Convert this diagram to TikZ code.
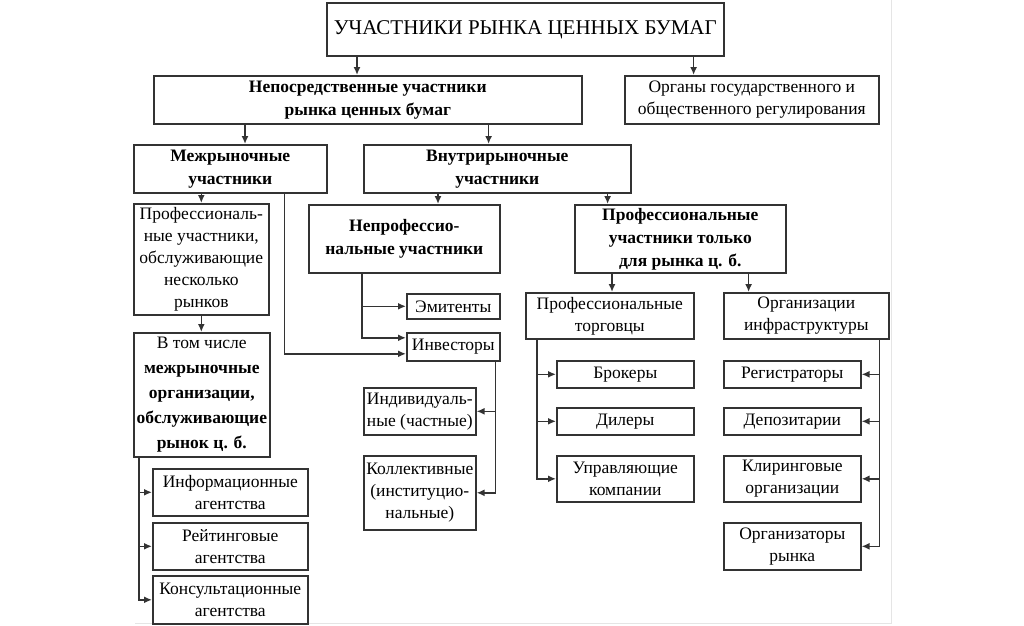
\documentclass[tikz,border=0pt]{standalone}
\usepackage{fontspec}
\setmainfont{Liberation Serif}
\usepackage{tikz}
\usetikzlibrary{arrows.meta}
\tikzstyle{block}=[draw=black!80,line width=1.6pt,align=center,inner sep=0pt,anchor=north west,font=\fontsize{17.5}{22}\selectfont]
\tikzstyle{heading}=[block,font=\fontsize{17.5}{23}\selectfont\bfseries]
\tikzstyle{link}=[draw=black!80,line width=1.6pt,-{Latex[length=8pt,width=7pt]}]

\begin{document}
\begin{tikzpicture}[x=1pt,y=-1pt]
  \useasboundingbox (0,0) rectangle (1024,625);
  \draw[black!10,line width=1pt] (135,623) -- (891,623) -- (891,0);
  % top levels
  \node [block,minimum width=397pt,minimum height=53pt,font=\fontsize{21}{26}\selectfont] (title) at (326,2) {УЧАСТНИКИ РЫНКА ЦЕННЫХ БУМАГ};
  \node [heading,minimum width=428pt,minimum height=48pt] (direct) at (153,75) {Непосредственные участники\\рынка ценных бумаг};
  \node [block,minimum width=254pt,minimum height=48pt] (regul) at (624,75) {Органы государственного и\\общественного регулирования};
  \node [heading,minimum width=193pt,minimum height=48pt] (inter) at (133,144) {Межрыночные\\участники};
  \node [heading,minimum width=267pt,minimum height=48pt] (intra) at (363,144) {Внутрирыночные\\участники};
  % intermarket branch
  \node [block,minimum width=135pt,minimum height=111pt] (multi) at (133,203) {Профессиональ-\\ные участники,\\обслуживающие\\несколько\\рынков};
  \node [block,minimum width=136pt,minimum height=124pt,font=\fontsize{17.5}{25}\selectfont] (incl) at (133,332) {В том числе\\\textbf{межрыночные}\\\textbf{организации,}\\\textbf{обслуживающие}\\\textbf{рынок ц. б.}};
  \node [block,minimum width=155pt,minimum height=47pt] (info) at (152,468) {Информационные\\агентства};
  \node [block,minimum width=155pt,minimum height=47pt] (rating) at (152,522) {Рейтинговые\\агентства};
  \node [block,minimum width=155pt,minimum height=48pt] (consult) at (152,575) {Консультационные\\агентства};
  % non-professional branch
  \node [heading,minimum width=191pt,minimum height=68pt] (nonprof) at (308,204) {Непрофессио-\\нальные участники};
  \node [block,minimum width=93pt,minimum height=25pt] (emit) at (406,293) {Эмитенты};
  \node [block,minimum width=93pt,minimum height=28pt] (invest) at (406,332) {Инвесторы};
  \node [block,minimum width=112pt,minimum height=47pt] (indiv) at (363,387) {Индивидуаль-\\ные (частные)};
  \node [block,minimum width=112pt,minimum height=74pt] (collect) at (363,455) {Коллективные\\(институцио-\\нальные)};
  % professional branch
  \node [heading,minimum width=211pt,minimum height=68pt] (prof) at (574,204) {Профессиональные\\участники только\\для рынка ц. б.};
  \node [block,minimum width=168pt,minimum height=46pt] (traders) at (525,292) {Профессиональные\\торговцы};
  \node [block,minimum width=165pt,minimum height=46pt] (infra) at (723,292) {Организации\\инфраструктуры};
  \node [block,minimum width=137pt,minimum height=27pt] (brokers) at (556,360) {Брокеры};
  \node [block,minimum width=137pt,minimum height=27pt] (dealers) at (556,407) {Дилеры};
  \node [block,minimum width=137pt,minimum height=46pt] (managers) at (556,455) {Управляющие\\компании};
  \node [block,minimum width=137pt,minimum height=27pt] (registr) at (723,360) {Регистраторы};
  \node [block,minimum width=137pt,minimum height=27pt] (depos) at (723,407) {Депозитарии};
  \node [block,minimum width=137pt,minimum height=46pt] (clear) at (723,455) {Клиринговые\\организации};
  \node [block,minimum width=137pt,minimum height=47pt] (organiz) at (723,522) {Организаторы\\рынка};
  % connectors
  \draw[link] ([xshift=31pt]title.south west) -- ([xshift=31pt]title.south west |- direct.north);
  \draw[link] ([xshift=-31pt]title.south east) -- ([xshift=-31pt]title.south east |- regul.north);
  \draw[link] ([xshift=92pt]direct.south west) -- ([xshift=92pt]direct.south west |- inter.north);
  \draw[link] ([xshift=-94pt]direct.south east) -- ([xshift=-94pt]direct.south east |- intra.north);
  \draw[link] (multi.north |- inter.south) -- (multi.north);
  \draw[link] ([xshift=-43pt]inter.south east) |- ([yshift=-7pt]invest.west);
  \draw[link] ([xshift=75pt]intra.south west) -- ([xshift=75pt]intra.south west |- nonprof.north);
  \draw[link] ([xshift=-24pt]intra.south east) -- ([xshift=-24pt]intra.south east |- prof.north);
  \draw[link] (multi.south) -- (multi.south |- incl.north);
  \foreach \n in {info,rating,consult}
    \draw[link] ([xshift=6pt]incl.south west) |- (\n.west);
  \draw[link] ([xshift=54pt]nonprof.south west) |- (emit.west);
  \draw[link] ([xshift=54pt]nonprof.south west) |- ([yshift=9pt]invest.west);
  \foreach \n in {indiv,collect}
    \draw[link] ([xshift=-5pt]invest.south east) |- (\n.east);
  \draw[link] ([xshift=38pt]prof.south west) -- ([xshift=38pt]prof.south west |- traders.north);
  \draw[link] ([xshift=-38pt]prof.south east) -- ([xshift=-38pt]prof.south east |- infra.north);
  \foreach \n in {brokers,dealers,managers}
    \draw[link] ([xshift=12pt]traders.south west) |- (\n.west);
  \foreach \n in {registr,depos,clear,organiz}
    \draw[link] ([xshift=-10pt]infra.south east) |- (\n.east);
\end{tikzpicture}
\end{document}
